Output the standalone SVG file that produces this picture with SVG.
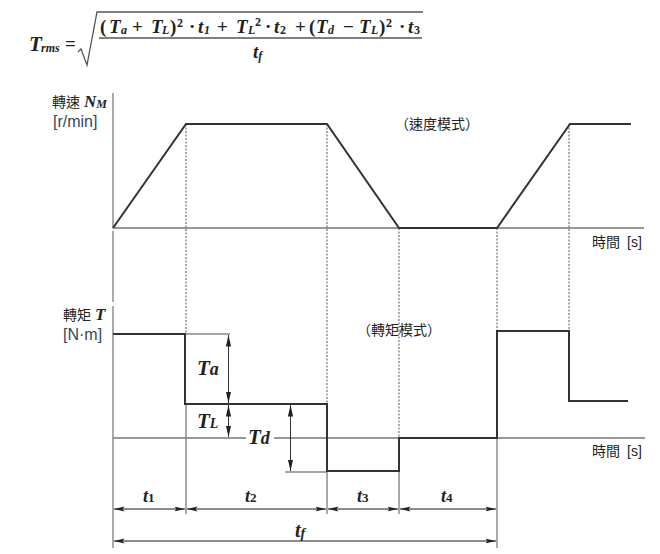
<svg xmlns="http://www.w3.org/2000/svg" width="660" height="554" viewBox="0 0 660 554">
<defs>
<marker id="a" markerWidth="11" markerHeight="6" refX="10.5" refY="3" orient="auto-start-reverse" markerUnits="userSpaceOnUse"><path d="M0 0.6L10.5 3L0 5.4L2 3Z" fill="#222"/></marker>
<marker id="v" markerWidth="12" markerHeight="6" refX="11.5" refY="3" orient="auto-start-reverse" markerUnits="userSpaceOnUse"><path d="M0 0.4L11.5 3L0 5.6Z" fill="#222"/></marker>
</defs>
<style>
text{fill:#222}
.m{font-family:"Liberation Serif","DejaVu Serif",serif;font-weight:bold;font-style:italic}
.r{font-style:normal}
.b{font-size:19px}
.sb{font-size:12px}
.c{font-family:"Liberation Sans","Noto Sans CJK TC",sans-serif;font-size:14px}
.u{font-family:"Liberation Sans",sans-serif;font-size:16px;fill:#33475b}
.axis{stroke:#777;stroke-width:1.6;fill:none}
.thin{stroke:#555;stroke-width:1;fill:none}
.dash{stroke:#555;stroke-width:1;stroke-dasharray:2 1.5;fill:none}
.curve{stroke:#333;stroke-width:2;fill:none}
.ext{stroke:#888;stroke-width:1.5;fill:none}
.dim{stroke:#666;stroke-width:1.5;fill:none;marker-start:url(#a);marker-end:url(#a)}
.dimv{stroke:#333;stroke-width:1;fill:none;marker-start:url(#v);marker-end:url(#v)}
</style>
<g id="formula">
<text class="m b" x="29" y="51" font-size="21" style="font-size:21px">T</text>
<text class="m sb" x="41" y="52">rms</text>
<text class="m r b" x="65" y="50">=</text>
<path d="M78 52L81 49L87 65L97 12H423" stroke="#555" stroke-width="1.3" fill="none"/>
<text class="m" y="33" xml:space="preserve"><tspan class="r b" x="100">(</tspan><tspan class="b" x="109">T</tspan><tspan class="sb" x="121" y="34">a</tspan><tspan class="r b" x="132" y="33">+</tspan><tspan class="b" x="151">T</tspan><tspan class="sb" x="162" y="34">L</tspan><tspan class="r b" x="170" y="33">)</tspan><tspan class="r sb" x="177" y="27">2</tspan><tspan class="r b" x="189" y="33">·</tspan><tspan class="b" x="198">t</tspan><tspan class="sb" x="204" y="34">1</tspan><tspan class="r b" x="217" y="33">+</tspan><tspan class="b" x="236">T</tspan><tspan class="sb" x="248" y="34">L</tspan><tspan class="r sb" x="255" y="26">2</tspan><tspan class="r b" x="265" y="33">·</tspan><tspan class="b" x="274">t</tspan><tspan class="r sb" x="280" y="34">2</tspan><tspan class="r b" x="295" y="33">+</tspan><tspan class="r b" x="309">(</tspan><tspan class="b" x="316">T</tspan><tspan class="sb" x="328" y="34">d</tspan><tspan class="r b" x="343" y="33">−</tspan><tspan class="b" x="359">T</tspan><tspan class="sb" x="371" y="34">L</tspan><tspan class="r b" x="379" y="33">)</tspan><tspan class="r sb" x="386" y="27">2</tspan><tspan class="r b" x="399" y="33">·</tspan><tspan class="b" x="408">t</tspan><tspan class="r sb" x="414" y="34">3</tspan></text>
<line x1="99" y1="38" x2="422" y2="38" stroke="#555" stroke-width="1.3"/>
<text class="m" x="253" y="58"><tspan class="b">t</tspan><tspan class="sb" y="60">f</tspan></text>
</g>
<g id="connectors">
<path class="thin" d="M113 93V228M113 231V302M113 306V548M186 404V514M327 404V514M399 438V514M497 438V548"/>
<path class="dash" d="M186 124V334M327 124V404M399 228V438M497 228V331M569 124V331"/>
<path class="axis" d="M113 228H644M113 438H246M274 438H645"/>
<path class="ext" d="M186 334H230M285 472H327"/>
<path class="dimv" d="M228.500 335V403"/>
<path class="dimv" d="M228.500 405V437"/>
<path class="dimv" d="M290.500 405V471"/>
<path class="dim" d="M114 509H185"/>
<path class="dim" d="M187 509H326"/>
<path class="dim" d="M328 509H398"/>
<path class="dim" d="M400 509H496"/>
<path class="dim" d="M114 541H496"/>
</g>
<g id="speed-curve"><path class="curve" d="M113 228L186 124H327L399 228H497L570 124H631"/></g>
<g id="torque-curve"><path class="curve" d="M113 334H185V404H327V471H399V438H497V331H569V401H628"/></g>
<g id="speed-label">
<text class="c" x="52" y="107">轉速</text>
<text class="m" x="84" y="107" font-size="17">N<tspan font-size="12" dy="1">M</tspan></text>
<text class="u" x="53" y="127">[r/min]</text>
</g>
<g id="torque-label">
<text class="c" x="63" y="320">轉矩</text>
<text class="m" x="95" y="320" font-size="17">T</text>
<text class="u" x="63" y="340">[N·m]</text>
</g>
<g id="mode-labels">
<text class="c" x="395" y="129">（速度模式）</text>
<text class="c" x="357" y="335">（轉矩模式）</text>
<text class="c" x="592" y="247">時間<tspan x="627">[s]</tspan></text>
<text class="c" x="592" y="456">時間<tspan x="627">[s]</tspan></text>
</g>
<g id="dimension-labels">
<text class="m" x="197" y="375" font-size="21">T<tspan font-size="18">a</tspan></text>
<text class="m" x="197" y="428" font-size="21">T<tspan font-size="14">L</tspan></text>
<text class="m" x="248" y="444" font-size="21">T<tspan font-size="18">d</tspan></text>
<text class="m" x="143" y="502" font-size="18">t<tspan font-size="13" font-style="normal">1</tspan></text>
<text class="m" x="245" y="502" font-size="18">t<tspan font-size="13" font-style="normal">2</tspan></text>
<text class="m" x="357" y="502" font-size="18">t<tspan font-size="13" font-style="normal">3</tspan></text>
<text class="m" x="441" y="502" font-size="18">t<tspan font-size="13" font-style="normal">4</tspan></text>
<text class="m" x="295" y="537" font-size="20">t<tspan font-size="14" dy="1">f</tspan></text>
</g>
</svg>
